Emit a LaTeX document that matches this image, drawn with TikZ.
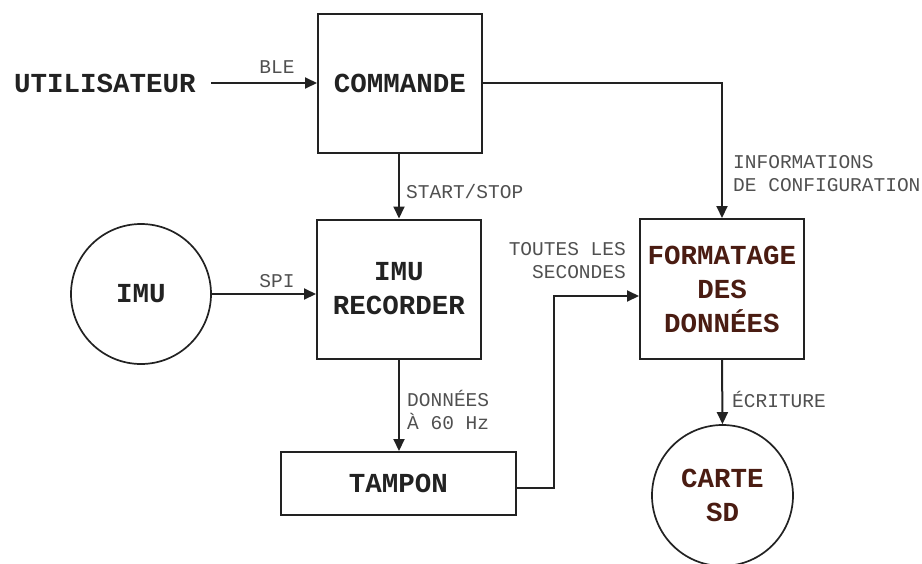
\documentclass[tikz,border=0pt]{standalone}
\usepackage{fontspec}
\setmainfont{Liberation Mono}
\usetikzlibrary{arrows.meta}
\definecolor{ln}{HTML}{222222}
\definecolor{lab}{HTML}{505050}
\definecolor{brn}{HTML}{4A1C12}
\begin{document}
\begin{tikzpicture}[x=1pt,y=-1pt,
  big/.style={font=\fontsize{27.5}{34}\selectfont\bfseries,text=ln,align=center},
  box/.style={big,draw=ln,line width=2pt,inner sep=0pt,minimum width=164pt,minimum height=139pt},
  circ/.style={big,draw=ln,line width=1.7pt,circle,inner sep=0pt,minimum size=140pt},
  lbl/.style={font=\fontsize{19.5}{23.5}\selectfont,text=lab,inner sep=0pt},
  arr/.style={draw=ln,line width=2pt,-{Triangle[length=12pt,width=11pt]}},
  con/.style={draw=ln,line width=2pt}
]
\useasboundingbox (0,0) rectangle (922,563);
\node[big,inner sep=0pt,anchor=west] (user) at (14,83) {UTILISATEUR};
\node[box] (cmd) at (400,83) {COMMANDE};
\node[box] (rec) at (399,289) {IMU\\RECORDER};
\node[circ] (imu) at (141,294) {IMU};
\node[box,minimum width=235pt,minimum height=63pt] (tam) at (398.5,483.5) {TAMPON};
\node[box,text=brn,minimum height=140pt] (fmt) at (722,289) {FORMATAGE\\DES\\DONNÉES};
\node[circ,text=brn,minimum size=141pt] (sd) at (722.5,495.5) {CARTE\\SD};

\coordinate (ustart) at (211,83);
\draw[arr] (ustart) -- (cmd.west);
\node[lbl] (ble) at (277,67) {BLE};

\draw[arr] (imu.east) -- (imu.east -| rec.west);
\node[lbl] (spi) at (277,281) {SPI};

\draw[arr] (cmd.south -| rec.north) -- (rec.north);
\node[lbl,anchor=west] (ss) at (406,192) {START/STOP};

\draw[arr] (rec.south) -- (rec.south |- tam.north);
\node[lbl,anchor=north west,align=left] (don) at (407,390) {DONNÉES\\À 60 Hz};

\draw[arr] (cmd.east) -| (fmt.north);
\node[lbl,anchor=north west,align=left] (info) at (733,155) {INFORMATIONS\\DE CONFIGURATION};

\coordinate (bend) at (554,296);
\draw[arr] ([yshift=-4pt]tam.east) -| (bend) -- (bend -| fmt.west);
\node[lbl,anchor=north east,align=right] (tls) at (626,242) {TOUTES LES\\SECONDES};

\draw[arr] (fmt.south) -- (sd.north);
\node[lbl,anchor=west] (ecr) at (732,399) {ÉCRITURE};
\end{tikzpicture}
\end{document}
